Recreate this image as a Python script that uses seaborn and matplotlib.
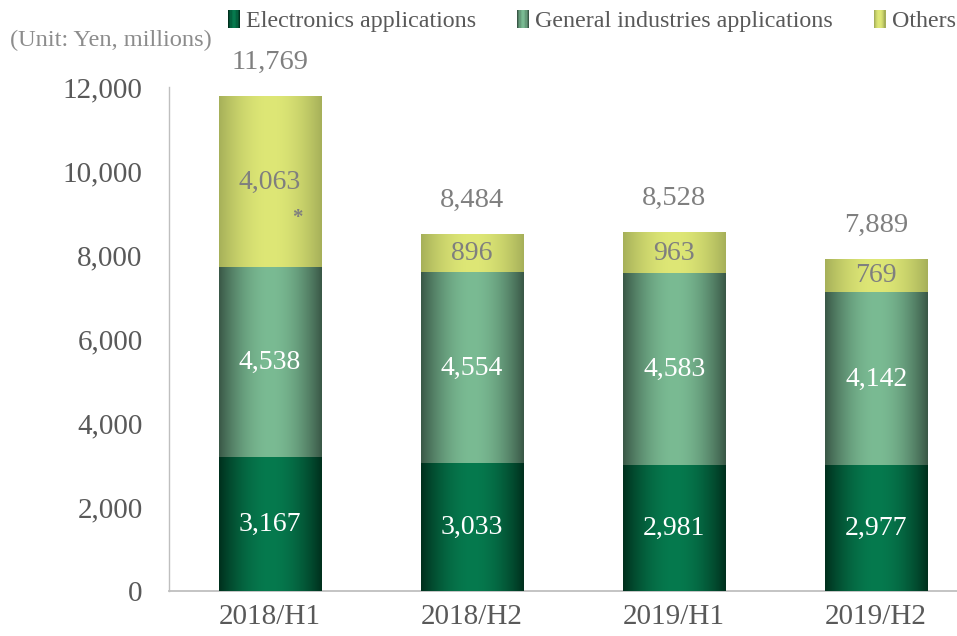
import numpy as np
import pandas as pd
import matplotlib
matplotlib.use("Agg")
import matplotlib.pyplot as plt
import seaborn as sns
from matplotlib.patches import Rectangle
from matplotlib.legend_handler import HandlerBase
from matplotlib.colors import to_rgb
from matplotlib.ticker import FuncFormatter

# Sales by application (Yen, millions)
periods = ["2018/H1", "2018/H2", "2019/H1", "2019/H2"]
electronics = [3167, 3033, 2981, 2977]
general = [4538, 4554, 4583, 4142]
others = [4063, 896, 963, 769]
totals = [11769, 8484, 8528, 7889]
series_names = ["Electronics applications", "General industries applications", "Others"]
y_ticks = [0, 2000, 4000, 6000, 8000, 10000, 12000]

# (edge colour, centre colour) of each horizontal gradient
grad = {
    "Electronics applications": ("#00301d", "#067a4e"),
    "General industries applications": ("#3a5847", "#7abb93"),
    "Others": ("#a6b059", "#dee776"),
}

sns.set_style("white")
plt.rcParams["font.family"] = ["Liberation Serif", "DejaVu Serif"]

TICK = "#595959"
LIGHT = "#7f7f7f"
AXIS = "#bfbfbf"


def gradient_colors(edge, mid, n):
    e = np.array(to_rgb(edge))
    m = np.array(to_rgb(mid))
    t = np.linspace(0, 1, n)
    w = np.clip(np.sin(np.pi * t), 0, 1) ** 0.9
    return e[None, :] * (1 - w[:, None]) + m[None, :] * w[:, None]


class GradientHandler(HandlerBase):
    def __init__(self, edge, mid):
        super().__init__()
        self.edge, self.mid = edge, mid

    def create_artists(self, legend, orig_handle, xdescent, ydescent,
                       width, height, fontsize, trans):
        n = 10
        cols = gradient_colors(self.edge, self.mid, n)
        arts = []
        for i, c in enumerate(cols):
            arts.append(Rectangle((-xdescent + width * i / n, -ydescent),
                                  width / n * 1.05, height, facecolor=c,
                                  edgecolor="none", transform=trans))
        return arts


fig = plt.figure(figsize=(9.57, 6.36), dpi=100)
ax = fig.add_axes([169 / 957, 45 / 636, 788 / 957, 504 / 636])

cum1 = np.array(electronics)
cum2 = cum1 + np.array(general)
cum3 = cum2 + np.array(others)

# stacked bars drawn as cumulative layers, top layer first
layers = [(cum3, "Others", 2), (cum2, "General industries applications", 3),
          (cum1, "Electronics applications", 4)]
for values, name, z in layers:
    df = pd.DataFrame({"period": periods, "value": values})
    n_before = len(ax.patches)
    sns.barplot(data=df, x="period", y="value", color=grad[name][1],
                width=0.505, ax=ax, zorder=z)
    for p in ax.patches[n_before:]:
        x0, y0, w, h = p.get_x(), p.get_y(), p.get_width(), p.get_height()
        img = gradient_colors(*grad[name], 80)[None, :, :]
        ax.imshow(img, extent=[x0, x0 + w, y0, y0 + h], aspect="auto",
                  interpolation="bilinear", zorder=z)
        p.set_visible(False)

ax.set_xlim(-0.5, 3.40)
ax.set_ylim(0, 12000)

# segment labels
for i in range(len(periods)):
    ax.text(i, electronics[i] / 2, f"{electronics[i]:,}", ha="center",
            va="center", color="white", fontsize=20, zorder=10)
    ax.text(i, cum1[i] + general[i] / 2, f"{general[i]:,}", ha="center",
            va="center", color="white", fontsize=20, zorder=10)
    ax.text(i, cum2[i] + others[i] / 2, f"{others[i]:,}", ha="center",
            va="center", color=LIGHT, fontsize=20, zorder=10)
    ax.annotate(f"{totals[i]:,}", xy=(i, totals[i]), xytext=(0, 24.5),
                textcoords="offset points", ha="center", va="center",
                color=LIGHT, fontsize=20.5, annotation_clip=False, zorder=10)

ax.text(0.135, 8870, "*", ha="center", va="center", color=LIGHT,
        fontsize=15, fontweight="bold", zorder=10)

ax.set_yticks(y_ticks)
ax.yaxis.set_major_formatter(FuncFormatter(lambda v, _: f"{int(v):,}"))
ax.tick_params(axis="y", length=0, pad=19, labelsize=21, labelcolor=TICK)
ax.tick_params(axis="x", length=0, pad=9, labelsize=21, labelcolor=TICK)
ax.set_xlabel("")
ax.set_ylabel("")
ax.grid(False)
for s in ["top", "right"]:
    ax.spines[s].set_visible(False)
ax.spines["left"].set_color(AXIS)
ax.spines["left"].set_linewidth(1.0)
ax.spines["bottom"].set_color(AXIS)
ax.spines["bottom"].set_linewidth(1.3)

fig.text(10 / 957, 1 - 40 / 636, "(Unit: Yen, millions)", ha="left",
         va="center", color="#8c8c8c", fontsize=17.6)

handles = [Rectangle((0, 0), 1, 1) for _ in series_names]
handler_map = {h: GradientHandler(*grad[n]) for h, n in zip(handles, series_names)}
fig.legend(handles, series_names, handler_map=handler_map, ncol=3,
           loc="center left", bbox_to_anchor=(228 / 957, 1 - 21 / 636),
           frameon=False, fontsize=17.3, labelcolor=TICK, borderpad=0,
           borderaxespad=0, handlelength=0.5, handleheight=0.8,
           handletextpad=0.25, columnspacing=1.7)

fig.savefig("out.png", dpi=100)
